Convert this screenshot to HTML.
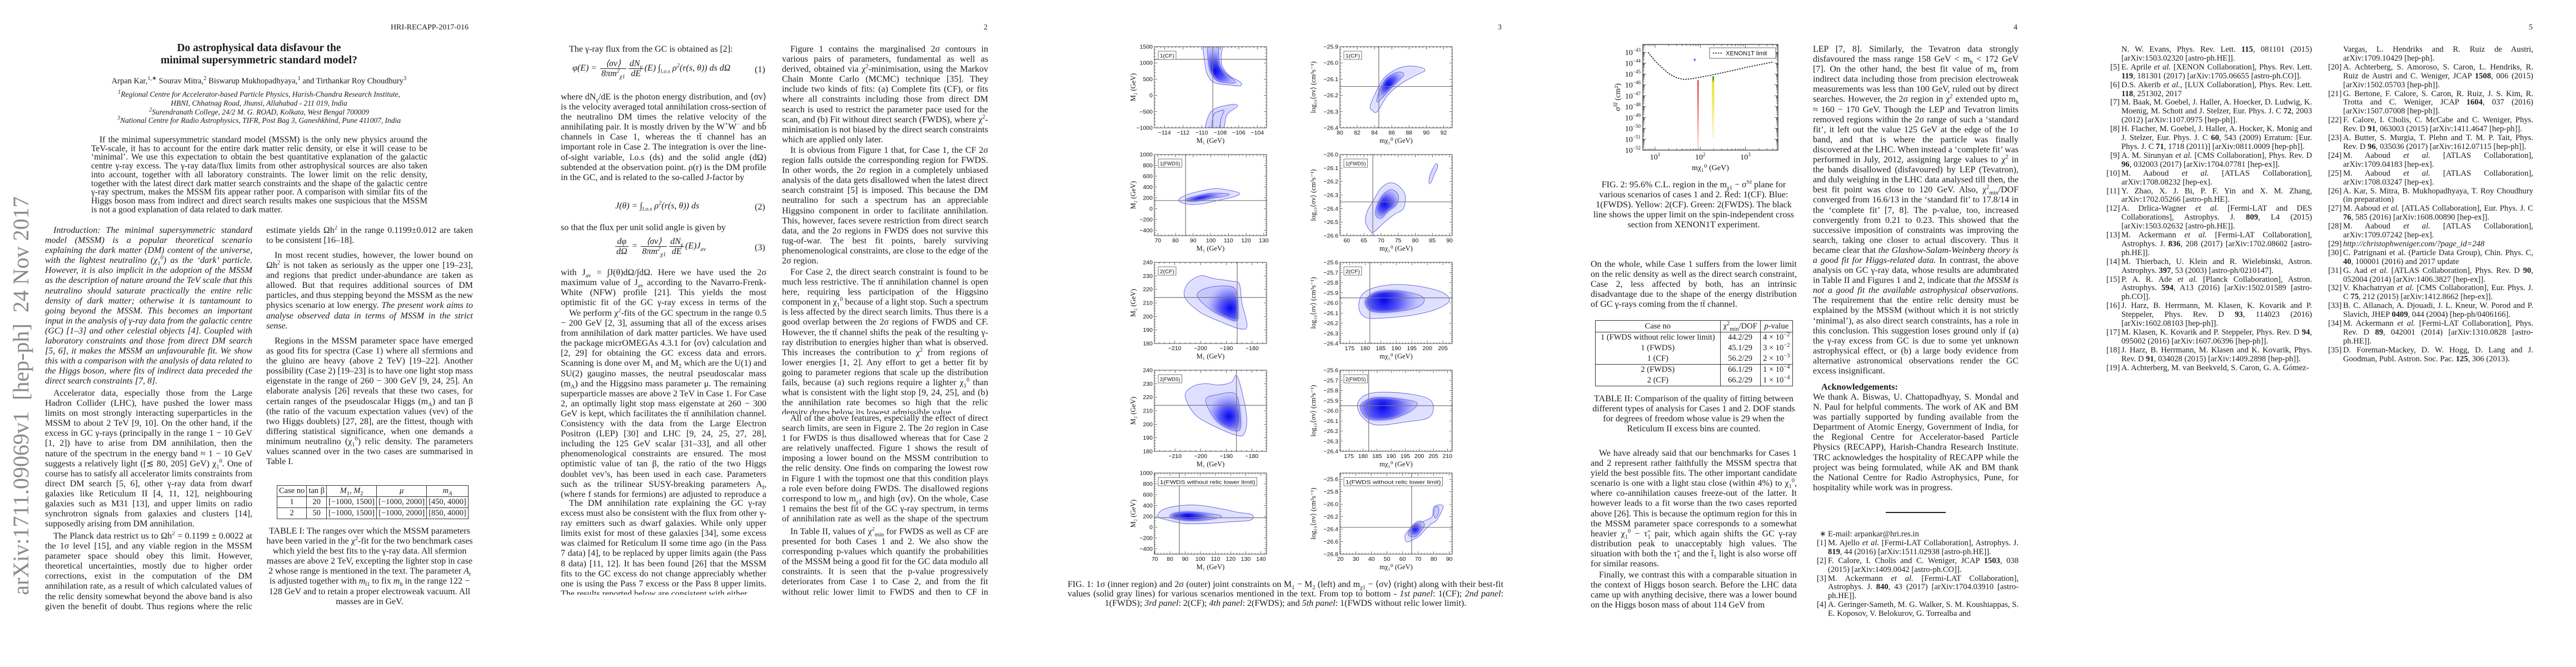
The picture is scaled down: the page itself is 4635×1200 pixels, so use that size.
<!DOCTYPE html>
<html lang="en">
<head>
<meta charset="utf-8">
<title>Do astrophysical data disfavour the MSSM?</title>
<style>
html,body{margin:0;padding:0}
body{width:4635px;height:1200px;overflow:hidden;background:#fff;position:relative;font-family:"Liberation Serif",serif;color:#1a1a1a}
.a{position:absolute}
.t{position:absolute;font-size:16px;line-height:18.1px;text-align:justify;hyphens:auto;-webkit-hyphens:auto;overflow:hidden}
.ind{text-indent:15px}
.it{font-style:italic}
sup,sub{font-size:10.5px;line-height:0}
.pn{position:absolute;top:42px;font-size:14px}
.cen{text-align:center;text-align-last:center}
.fr{display:inline-block;vertical-align:middle;text-align:center;margin:0 2px}
.fr>span{display:block;line-height:17px;padding:0 2px}
.fr>span:first-child{border-bottom:1px solid #222}
.eq{position:absolute;font-size:16px;white-space:nowrap;font-style:italic}
.eqn{position:absolute;font-size:16px}
table.tb{position:absolute;border-collapse:collapse;font-size:14.5px}
table.tb td{border:1px solid #333;padding:0 3px;text-align:center;height:19px;line-height:19px;white-space:nowrap}
.refs{position:absolute;font-size:14.6px;line-height:15.9px;text-align:justify;hyphens:auto}
.refs div{position:relative}
.refs b{font-weight:bold}
.refs span.l{position:absolute;left:-27px;width:24px;text-align:right}
</style>
</head>
<body>

<!-- ================= PAGE 1 ================= -->
<div class="a" style="left:-362px;top:690px;width:800px;text-align:center;transform:rotate(-90deg);font-size:40px;color:#8a8a8a;white-space:pre;line-height:44px">arXiv:1711.09069v1  [hep-ph]  24 Nov 2017</div>

<div class="a" style="left:703px;top:42px;font-size:14px">HRI-RECAPP-2017-016</div>

<div class="a cen" style="left:166px;top:76px;width:600px;font-size:19.5px;line-height:22px;font-weight:bold">Do astrophysical data disfavour the<br>minimal supersymmetric standard model?</div>

<div class="a cen" style="left:100px;top:138px;width:732px;font-size:14.5px;white-space:nowrap">Arpan Kar,<sup>1,∗</sup> Sourav Mitra,<sup>2</sup> Biswarup Mukhopadhyaya,<sup>1</sup> and Tirthankar Roy Choudhury<sup>3</sup></div>

<div class="a cen it" style="left:100px;top:162px;width:732px;font-size:13.5px;line-height:15.8px;white-space:nowrap"><sup>1</sup>Regional Centre for Accelerator-based Particle Physics, Harish-Chandra Research Institute,<br>HBNI, Chhatnag Road, Jhunsi, Allahabad - 211 019, India<br><sup>2</sup>Surendranath College, 24/2 M. G. ROAD, Kolkata, West Bengal 700009<br><sup>3</sup>National Centre for Radio Astrophysics, TIFR, Post Bag 3, Ganeshkhind, Pune 411007, India</div>

<div class="t ind" style="left:164px;top:244px;width:605px;font-size:15.6px;line-height:15.7px;height:142px">If the minimal supersymmetric standard model (MSSM) is the only new physics around the TeV-scale, it has to account for the entire dark matter relic density, or else it will cease to be ‘minimal’. We use this expectation to obtain the best quantitative explanation of the galactic centre γ-ray excess. The γ-ray data/flux limits from other astrophysical sources are also taken into account, together with all laboratory constraints. The lower limit on the relic density, together with the latest direct dark matter search constraints and the shape of the galactic centre γ-ray spectrum, makes the MSSM fits appear rather poor. A comparison with similar fits of the Higgs boson mass from indirect and direct search results makes one suspicious that the MSSM is not a good explanation of data related to dark matter.</div>

<div class="t ind it" style="left:81px;top:406px;width:373px;height:290px"><i>Introduction:</i> The minimal supersymmetric standard model (MSSM) is a popular theoretical scenario explaining the dark matter (DM) content of the universe, with the lightest neutralino (χ<sub>1</sub><sup>0</sup>) as the ‘dark’ particle. However, it is also implicit in the adoption of the MSSM as the description of nature around the TeV scale that this neutralino should saturate practically the entire relic density of dark matter; otherwise it is tantamount to going beyond the MSSM. This becomes an important input in the analysis of γ-ray data from the galactic centre (GC) [1–3] and other celestial objects [4]. Coupled with laboratory constraints and those from direct DM search [5, 6], it makes the MSSM an unfavourable fit. We show this with a comparison with the analysis of data related to the Higgs boson, where fits of indirect data preceded the direct search constraints [7, 8].</div>

<div class="t ind" style="left:81px;top:699px;width:373px;height:254px">Accelerator data, especially those from the Large Hadron Collider (LHC), have pushed the lower mass limits on most strongly interacting superparticles in the MSSM to about 2 TeV [9, 10]. On the other hand, if the excess in GC γ-rays (principally in the range 1 − 10 GeV [1, 2]) have to arise from DM annihilation, then the nature of the spectrum in the energy band ≈ 1 − 10 GeV suggests a relatively light ([≲ 80, 205] GeV) χ<sub>1</sub><sup>0</sup>. One of course has to satisfy all accelerator limits constraints from direct DM search [5, 6], other γ-ray data from dwarf galaxies like Reticulum II [4, 11, 12], neighbouring galaxies such as M31 [13], and upper limits on radio synchrotron signals from galaxies and clusters [14], supposedly arising from DM annihilation.</div>

<div class="t ind" style="left:81px;top:956px;width:373px;height:146px">The Planck data restrict us to Ωh<sup>2</sup> = 0.1199 ± 0.0022 at the 1σ level [15], and any viable region in the MSSM parameter space should obey this limit. However, theoretical uncertainties, mostly due to higher order corrections, exist in the computation of the DM annihilation rate, as a result of which calculated values of the relic density somewhat beyond the above band is also given the benefit of doubt. Thus regions where the relic density</div>

<div class="t" style="left:479px;top:406px;width:372px;height:37px">estimate yields Ωh<sup>2</sup> in the range 0.1199±0.012 are taken to be consistent [16–18].</div>

<div class="t ind" style="left:479px;top:451px;width:372px;height:146px">In most recent studies, however, the lower bound on Ωh<sup>2</sup> is not taken as seriously as the upper one [19–23], and regions that predict under-abundance are taken as allowed. But that requires additional sources of DM particles, and thus stepping beyond the MSSM as the new physics scenario at low energy. <i>The present work aims to analyse observed data in terms of MSSM in the strict sense.</i></div>

<div class="t ind" style="left:479px;top:605px;width:372px;height:236px">Regions in the MSSM parameter space have emerged as good fits for spectra (Case 1) where all sfermions and the gluino are heavy (above 2 TeV) [19–22]. Another possibility (Case 2) [19–23] is to have one light stop mass eigenstate in the range of 260 − 300 GeV [9, 24, 25]. An elaborate analysis [26] reveals that these two cases, for certain ranges of the pseudoscalar Higgs (m<sub>A</sub>) and tan β (the ratio of the vacuum expectation values (vev) of the two Higgs doublets) [27, 28], are the fittest, though with differing statistical significance, when one demands a minimum neutralino (χ<sub>1</sub><sup>0</sup>) relic density. The parameters values scanned over in the two cases are summarised in Table I.</div>

<table class="tb" style="left:498px;top:873px;width:334px">
<tr><td>Case no</td><td>tan β</td><td><i>M</i><sub>1</sub>, <i>M</i><sub>2</sub></td><td><i>μ</i></td><td><i>m<sub>A</sub></i></td></tr>
<tr><td>1</td><td>20</td><td>[−1000, 1500]</td><td>[−1000, 2000]</td><td>[450, 4000]</td></tr>
<tr><td>2</td><td>50</td><td>[−1000, 1500]</td><td>[−1000, 2000]</td><td>[850, 4000]</td></tr>
</table>

<div class="t cen" style="left:479px;top:947px;width:372px;height:146px">TABLE I: The ranges over which the MSSM parameters have been varied in the χ<sup>2</sup>-fit for the two benchmark cases which yield the best fits to the γ-ray data. All sfermion masses are above 2 TeV, excepting the lighter stop in case 2 whose range is mentioned in the text. The parameter <i>A<sub>t</sub></i> is adjusted together with <i>m</i><sub>t̃1</sub> to fix <i>m<sub>h</sub></i> in the range 122 − 128 GeV and to retain a proper electroweak vacuum. All masses are in GeV.</div>

<!-- ================= PAGE 2 ================= -->
<div class="pn" style="left:1770px">2</div>

<div class="t ind" style="left:1009px;top:80px;width:370px;height:19px">The γ-ray flux from the GC is obtained as [2]:</div>
<div class="eq" style="left:1030px;top:106px">φ(E) = <span class="fr"><span>⟨σv⟩</span><span>8πm<sup>2</sup><sub>χ1</sub></span></span><span class="fr"><span>dN<sub>γ</sub></span><span>dE</span></span>(E) ∫<sub>l.o.s</sub> ρ<sup>2</sup>(r(s, θ)) ds dΩ</div>
<div class="eqn" style="left:1358px;top:117px">(1)</div>

<div class="t" style="left:1009px;top:166px;width:370px;height:182px">where dN<sub>γ</sub>/dE is the photon energy distribution, and ⟨σv⟩ is the velocity averaged total annihilation cross-section of the neutralino DM times the relative velocity of the annihilating pair. It is mostly driven by the W<sup>+</sup>W<sup>−</sup> and bb̄ channels in Case 1, whereas the tt̄ channel has an important role in Case 2. The integration is over the line-of-sight variable, l.o.s (ds) and the solid angle (dΩ) subtended at the observation point. ρ(r) is the DM profile in the GC, and is related to the so-called J-factor by</div>
<div class="eq" style="left:1107px;top:362px">J(θ) = ∫<sub>l.o.s</sub> ρ<sup>2</sup>(r(s, θ)) ds</div>
<div class="eqn" style="left:1358px;top:364px">(2)</div>
<div class="t" style="left:1009px;top:401px;width:370px;height:19px">so that the flux per unit solid angle is given by</div>
<div class="eq" style="left:1105px;top:426px"><span class="fr"><span>dφ</span><span>dΩ</span></span> = <span class="fr"><span>⟨σv⟩</span><span>8πm<sup>2</sup><sub>χ1</sub></span></span><span class="fr"><span>dN<sub>γ</sub></span><span>dE</span></span>(E)J<sub>av</sub></div>
<div class="eqn" style="left:1358px;top:437px">(3)</div>

<div class="t" style="left:1009px;top:482px;width:370px;height:73px">with J<sub>av</sub> = ∫J(θ)dΩ/∫dΩ. Here we have used the 2σ maximum value of J<sub>av</sub> according to the Navarro-Frenk-White (NFW) profile [21]. This yields the most optimistic fit of the GC γ-ray excess in terms of the MSSM.</div>
<div class="t ind" style="left:1009px;top:555px;width:370px;height:344px">We perform χ<sup>2</sup>-fits of the GC spectrum in the range 0.5 − 200 GeV [2, 3], assuming that all of the excess arises from annihilation of dark matter particles. We have used the package micrOMEGAs 4.3.1 for ⟨σv⟩ calculation and [2, 29] for obtaining the GC excess data and errors. Scanning is done over M<sub>1</sub> and M<sub>2</sub> which are the U(1) and SU(2) gaugino masses, the neutral pseudoscalar mass (m<sub>A</sub>) and the Higgsino mass parameter μ. The remaining superparticle masses are above 2 TeV in Case 1. For Case 2, an optimally light stop mass eigenstate at 260 − 300 GeV is kept, which facilitates the tt̄ annihilation channel. Consistency with the data from the Large Electron Positron (LEP) [30] and LHC [9, 24, 25, 27, 28], including the 125 GeV scalar [31–33], and all other phenomenological constraints are ensured. The most optimistic value of tan β, the ratio of the two Higgs doublet vev’s, has been used in each case. Parameters such as the trilinear SUSY-breaking parameters A<sub>f</sub>, (where f stands for fermions) are adjusted to reproduce a 125 GeV neutral scalar.</div>
<div class="t ind" style="left:1009px;top:897px;width:370px;height:173px">The DM annihilation rate explaining the GC γ-ray excess must also be consistent with the flux from other γ-ray emitters such as dwarf galaxies. While only upper limits exist for most of these galaxies [34], some excess was claimed for Reticulum II some time ago (in the Pass 7 data) [4], to be replaced by upper limits again (the Pass 8 data) [11, 12]. It has been found [26] that the MSSM fits to the GC excess do not change appreciably whether one is using the Pass 7 excess or the Pass 8 upper limits. The results reported below are consistent with either.</div>

<div class="t ind" style="left:1407px;top:80px;width:371px;height:182px">Figure 1 contains the marginalised 2σ contours in various pairs of parameters, fundamental as well as derived, obtained via χ<sup>2</sup>-minimisation, using the Markov Chain Monte Carlo (MCMC) technique [35]. They include two kinds of fits: (a) Complete fits (CF), or fits where all constraints including those from direct DM search is used to restrict the parameter pace used for the scan, and (b) Fit without direct search (FWDS), where χ<sup>2</sup>-minimisation is not biased by the direct search constraints which are applied only later.</div>
<div class="t ind" style="left:1407px;top:262px;width:371px;height:219px">It is obvious from Figure 1 that, for Case 1, the CF 2σ region falls outside the corresponding region for FWDS. In other words, the 2σ region in a completely unbiased analysis of the data gets disallowed when the latest direct search constraint [5] is imposed. This because the DM neutralino for such a spectrum has an appreciable Higgsino component in order to facilitate annihilation. This, however, faces severe restriction from direct search data, and the 2σ regions in FWDS does not survive this tug-of-war. The best fit points, barely surviving phenomenological constraints, are close to the edge of the 2σ region.</div>
<div class="t ind" style="left:1407px;top:481px;width:371px;height:264px">For Case 2, the direct search constraint is found to be much less restrictive. The tt̄ annihilation channel is open here, requiring less participation of the Higgsino component in χ<sub>1</sub><sup>0</sup> because of a light stop. Such a spectrum is less affected by the direct search limits. Thus there is a good overlap between the 2σ regions of FWDS and CF. However, the tt̄ channel shifts the peak of the resulting γ-ray distribution to energies higher than what is observed. This increases the contribution to χ<sup>2</sup> from regions of lower energies [1, 2]. Any effort to get a better fit by going to parameter regions that scale up the distribution fails, because (a) such regions require a lighter χ<sub>1</sub><sup>0</sup> than what is consistent with the light stop [9, 24, 25], and (b) the annihilation rate becomes so high that the relic density drops below its lowest admissible value.</div>
<div class="t ind" style="left:1407px;top:744px;width:371px;height:201px">All of the above features, especially the effect of direct search limits, are seen in Figure 2. The 2σ region in Case 1 for FWDS is thus disallowed whereas that for Case 2 are relatively unaffected. Figure 1 shows the result of imposing a lower bound on the MSSM contribution to the relic density. One finds on comparing the lowest row in Figure 1 with the topmost one that this condition plays a role even before doing FWDS. The disallowed regions correspond to low m<sub>χ1</sub> and high ⟨σv⟩. On the whole, Case 1 remains the best fit of the GC γ-ray spectrum, in terms of annihilation rate as well as the shape of the spectrum [1, 2].</div>
<div class="t ind" style="left:1407px;top:948px;width:371px;height:122px">In Table II, values of χ<sup>2</sup><sub>min</sub> for FWDS as well as CF are presented for both Cases 1 and 2. We also show the corresponding p-values which quantify the probabilities of the MSSM being a good fit for the GC data modulo all constraints. It is seen that the p-value progressively deteriorates from Case 1 to Case 2, and from the fit without relic lower limit to FWDS and then to CF in Case 1.</div>

<!-- ================= PAGE 3 ================= -->
<div class="pn" style="left:2695px">3</div>
<div class="t" style="left:1921px;top:1043px;width:784px;height:56px;line-height:17px;text-align-last:center">FIG. 1: 1σ (inner region) and 2σ (outer) joint constraints on M<sub>1</sub> − M<sub>2</sub> (left) and m<sub>χ1</sub> − ⟨σv⟩ (right) along with their best-fit values (solid gray lines) for various scenarios mentioned in the text. From top to bottom - <i>1st panel</i>: 1(CF); <i>2nd panel</i>: 1(FWDS); <i>3rd panel</i>: 2(CF); <i>4th panel</i>: 2(FWDS); and <i>5th panel</i>: 1(FWDS without relic lower limit).</div>

<!-- ================= PAGE 4 ================= -->
<div class="pn" style="left:3623px">4</div>
<div class="t cen" style="left:2862px;top:324px;width:371px;height:92px">FIG. 2: 95.6% C.L. region in the m<sub>χ1</sub> − σ<sup>SI</sup> plane for various scenarios of cases 1 and 2. Red: 1(CF). Blue: 1(FWDS). Yellow: 2(CF). Green: 2(FWDS). The black line shows the upper limit on the spin-independent cross section from XENON1T experiment.</div>
<div class="t" style="left:2862px;top:467px;width:371px;height:92px">On the whole, while Case 1 suffers from the lower limit on the relic density as well as the direct search constraint, Case 2, less affected by both, has an intrinsic disadvantage due to the shape of the energy distribution of GC γ-rays coming from the tt̄ channel.</div>

<table class="tb" style="left:2870px;top:576px;width:356px;font-size:14.5px">
<tr><td style="height:20px">Case no</td><td>χ<sup>2</sup><sub>min</sub>/DOF</td><td><i>p</i>-value</td></tr>
<tr><td style="border-bottom:none">1 (FWDS without relic lower limit)</td><td style="border-bottom:none">44.2/29</td><td style="border-bottom:none">4 × 10<sup>−2</sup></td></tr>
<tr><td style="border-top:none;border-bottom:none">1 (FWDS)</td><td style="border-top:none;border-bottom:none">45.1/29</td><td style="border-top:none;border-bottom:none">3 × 10<sup>−2</sup></td></tr>
<tr><td style="border-top:none">1 (CF)</td><td style="border-top:none">56.2/29</td><td style="border-top:none">2 × 10<sup>−3</sup></td></tr>
<tr><td style="border-bottom:none">2 (FWDS)</td><td style="border-bottom:none">66.1/29</td><td style="border-bottom:none">1 × 10<sup>−4</sup></td></tr>
<tr><td style="border-top:none">2 (CF)</td><td style="border-top:none">66.2/29</td><td style="border-top:none">1 × 10<sup>−4</sup></td></tr>
</table>

<div class="t cen" style="left:2862px;top:709px;width:371px;height:74px">TABLE II: Comparison of the quality of fitting between different types of analysis for Cases 1 and 2. DOF stands for degrees of freedom whose value is 29 when the Reticulum II excess bins are counted.</div>

<div class="t ind" style="left:2862px;top:807px;width:371px;height:219px">We have already said that our benchmarks for Cases 1 and 2 represent rather faithfully the MSSM spectra that yield the best possible fits. The other important candidate scenario is one with a light stau close (within 4%) to χ<sub>1</sub><sup>0</sup>, where co-annihilation causes freeze-out of the latter. It however leads to a fit worse than the two cases reported above [26]. This is because the optimum region for this in the MSSM parameter space corresponds to a somewhat heavier χ<sub>1</sub><sup>0</sup> − τ̃<sub>1</sub> pair, which again shifts the GC γ-ray distribution peak to unacceptably high values. The situation with both the τ̃<sub>1</sub> and the t̃<sub>1</sub> light is also worse off for similar reasons.</div>
<div class="t ind" style="left:2862px;top:1026px;width:371px;height:74px">Finally, we contrast this with a comparable situation in the context of Higgs boson search. Before the LHC data came up with anything decisive, there was a lower bound on the Higgs boson mass of about 114 GeV from</div>

<div class="t" style="left:3262px;top:80px;width:370px;height:599px">LEP [7, 8]. Similarly, the Tevatron data strongly disfavoured the mass range 158 GeV &lt; m<sub>h</sub> &lt; 172 GeV [7]. On the other hand, the best fit value of m<sub>h</sub> from indirect data including those from precision electroweak measurements was less than 100 GeV, ruled out by direct searches. However, the 2σ region in χ<sup>2</sup> extended upto m<sub>h</sub> ≈ 160 − 170 GeV. Though the LEP and Tevatron limits removed regions within the 2σ range of such a ‘standard fit’, it left out the value 125 GeV at the edge of the 1σ band, and that is where the particle was finally discovered at the LHC. When instead a ‘complete fit’ was performed in July, 2012, assigning large values to χ<sup>2</sup> in the bands disallowed (disfavoured) by LEP (Tevatron), and duly weighing in the LHC data analysed till then, the best fit point was close to 120 GeV. Also, χ<sup>2</sup><sub>min</sub>/DOF converged from 16.6/13 in the ‘standard fit’ to 17.8/14 in the ‘complete fit’ [7, 8]. The p-value, too, increased convergently from 0.21 to 0.23. This showed that the successive imposition of constraints was improving the search, taking one closer to actual discovery. Thus it became clear that <i>the Glashow-Salam-Weinberg theory is a good fit for Higgs-related data.</i> In contrast, the above analysis on GC γ-ray data, whose results are adumbrated in Table II and Figures 1 and 2, indicate that <i>the MSSM is not a good fit the available astrophysical observations.</i> The requirement that the entire relic density must be explained by the MSSM (without which it is not strictly ‘minimal’), as also direct search constraints, has a role in this conclusion. This suggestion loses ground only if (a) the γ-ray excess from GC is due to some yet unknown astrophysical effect, or (b) a large body evidence from alternative astronomical observations render the GC excess insignificant.</div>
<div class="a" style="left:3277px;top:688px;font-size:16px;font-weight:bold;line-height:18px">Acknowledgements:</div>
<div class="t" style="left:3262px;top:706px;width:370px;height:182px">We thank A. Biswas, U. Chattopadhyay, S. Mondal and N. Paul for helpful comments. The work of AK and BM was partially supported by funding available from the Department of Atomic Energy, Government of India, for the Regional Centre for Accelerator-based Particle Physics (RECAPP), Harish-Chandra Research Institute. TRC acknowledges the hospitality of RECAPP while the project was being formulated, while AK and BM thank the National Centre for Radio Astrophysics, Pune, for hospitality while work was in progress.</div>
<div class="a" style="left:3393px;top:921px;width:108px;height:2px;background:#222"></div>

<div class="refs" style="left:3289px;top:954px;width:343px">
<div><span class="l">∗</span>E-mail: arpankar@hri.res.in</div>
<div><span class="l">[1]</span>M. Ajello <i>et al.</i> [Fermi-LAT Collaboration], Astrophys. J. <b>819</b>, 44 (2016) [arXiv:1511.02938 [astro-ph.HE]].</div>
<div><span class="l">[2]</span>F. Calore, I. Cholis and C. Weniger, JCAP <b>1503</b>, 038 (2015) [arXiv:1409.0042 [astro-ph.CO]].</div>
<div><span class="l">[3]</span>M. Ackermann <i>et al.</i> [Fermi-LAT Collaboration], Astrophys. J. <b>840</b>, 43 (2017) [arXiv:1704.03910 [astro-ph.HE]].</div>
<div><span class="l">[4]</span>A. Geringer-Sameth, M. G. Walker, S. M. Koushiappas, S. E. Koposov, V. Belokurov, G. Torrealba and</div>
</div>

<!-- ================= PAGE 5 ================= -->
<div class="pn" style="left:4550px">5</div>
<div class="refs" style="left:3817px;top:82px;width:343px">
<div>N. W. Evans, Phys. Rev. Lett. <b>115</b>, 081101 (2015) [arXiv:1503.02320 [astro-ph.HE]].</div>
<div><span class="l">[5]</span>E. Aprile <i>et al.</i> [XENON Collaboration], Phys. Rev. Lett. <b>119</b>, 181301 (2017) [arXiv:1705.06655 [astro-ph.CO]].</div>
<div><span class="l">[6]</span>D.S. Akerib <i>et al.</i>, [LUX Collaboration], Phys. Rev. Lett. <b>118</b>, 251302, 2017</div>
<div><span class="l">[7]</span>M. Baak, M. Goebel, J. Haller, A. Hoecker, D. Ludwig, K. Moenig, M. Schott and J. Stelzer, Eur. Phys. J. C <b>72</b>, 2003 (2012) [arXiv:1107.0975 [hep-ph]].</div>
<div><span class="l">[8]</span>H. Flacher, M. Goebel, J. Haller, A. Hocker, K. Monig and J. Stelzer, Eur. Phys. J. C <b>60</b>, 543 (2009) Erratum: [Eur. Phys. J. C <b>71</b>, 1718 (2011)] [arXiv:0811.0009 [hep-ph]].</div>
<div><span class="l">[9]</span>A. M. Sirunyan <i>et al.</i> [CMS Collaboration], Phys. Rev. D <b>96</b>, 032003 (2017) [arXiv:1704.07781 [hep-ex]].</div>
<div><span class="l">[10]</span>M. Aaboud <i>et al.</i> [ATLAS Collaboration], arXiv:1708.08232 [hep-ex].</div>
<div><span class="l">[11]</span>Y. Zhao, X. J. Bi, P. F. Yin and X. M. Zhang, arXiv:1702.05266 [astro-ph.HE].</div>
<div><span class="l">[12]</span>A. Drlica-Wagner <i>et al.</i> [Fermi-LAT and DES Collaborations], Astrophys. J. <b>809</b>, L4 (2015) [arXiv:1503.02632 [astro-ph.HE]].</div>
<div><span class="l">[13]</span>M. Ackermann <i>et al.</i> [Fermi-LAT Collaboration], Astrophys. J. <b>836</b>, 208 (2017) [arXiv:1702.08602 [astro-ph.HE]].</div>
<div><span class="l">[14]</span>M. Thierbach, U. Klein and R. Wielebinski, Astron. Astrophys. <b>397</b>, 53 (2003) [astro-ph/0210147].</div>
<div><span class="l">[15]</span>P. A. R. Ade <i>et al.</i> [Planck Collaboration], Astron. Astrophys. <b>594</b>, A13 (2016) [arXiv:1502.01589 [astro-ph.CO]].</div>
<div><span class="l">[16]</span>J. Harz, B. Herrmann, M. Klasen, K. Kovarik and P. Steppeler, Phys. Rev. D <b>93</b>, 114023 (2016) [arXiv:1602.08103 [hep-ph]].</div>
<div><span class="l">[17]</span>M. Klasen, K. Kovarik and P. Steppeler, Phys. Rev. D <b>94</b>, 095002 (2016) [arXiv:1607.06396 [hep-ph]].</div>
<div><span class="l">[18]</span>J. Harz, B. Herrmann, M. Klasen and K. Kovarik, Phys. Rev. D <b>91</b>, 034028 (2015) [arXiv:1409.2898 [hep-ph]].</div>
<div><span class="l">[19]</span>A. Achterberg, M. van Beekveld, S. Caron, G. A. Gómez-</div>
</div>
<div class="refs" style="left:4216px;top:82px;width:342px">
<div>Vargas, L. Hendriks and R. Ruiz de Austri, arXiv:1709.10429 [hep-ph].</div>
<div><span class="l">[20]</span>A. Achterberg, S. Amoroso, S. Caron, L. Hendriks, R. Ruiz de Austri and C. Weniger, JCAP <b>1508</b>, 006 (2015) [arXiv:1502.05703 [hep-ph]].</div>
<div><span class="l">[21]</span>G. Bertone, F. Calore, S. Caron, R. Ruiz, J. S. Kim, R. Trotta and C. Weniger, JCAP <b>1604</b>, 037 (2016) [arXiv:1507.07008 [hep-ph]].</div>
<div><span class="l">[22]</span>F. Calore, I. Cholis, C. McCabe and C. Weniger, Phys. Rev. D <b>91</b>, 063003 (2015) [arXiv:1411.4647 [hep-ph]].</div>
<div><span class="l">[23]</span>A. Butter, S. Murgia, T. Plehn and T. M. P. Tait, Phys. Rev. D <b>96</b>, 035036 (2017) [arXiv:1612.07115 [hep-ph]].</div>
<div><span class="l">[24]</span>M. Aaboud <i>et al.</i> [ATLAS Collaboration], arXiv:1709.04183 [hep-ex].</div>
<div><span class="l">[25]</span>M. Aaboud <i>et al.</i> [ATLAS Collaboration], arXiv:1708.03247 [hep-ex].</div>
<div><span class="l">[26]</span>A. Kar, S. Mitra, B. Mukhopadhyaya, T. Roy Choudhury (in preparation)</div>
<div><span class="l">[27]</span>M. Aaboud <i>et al.</i> [ATLAS Collaboration], Eur. Phys. J. C <b>76</b>, 585 (2016) [arXiv:1608.00890 [hep-ex]].</div>
<div><span class="l">[28]</span>M. Aaboud <i>et al.</i> [ATLAS Collaboration], arXiv:1709.07242 [hep-ex].</div>
<div><span class="l">[29]</span><i>http://christophweniger.com/?page_id=248</i></div>
<div><span class="l">[30]</span>C. Patrignani et al. (Particle Data Group), Chin. Phys. C, <b>40</b>, 100001 (2016) and 2017 update</div>
<div><span class="l">[31]</span>G. Aad <i>et al.</i> [ATLAS Collaboration], Phys. Rev. D <b>90</b>, 052004 (2014) [arXiv:1406.3827 [hep-ex]].</div>
<div><span class="l">[32]</span>V. Khachatryan <i>et al.</i> [CMS Collaboration], Eur. Phys. J. C <b>75</b>, 212 (2015) [arXiv:1412.8662 [hep-ex]].</div>
<div><span class="l">[33]</span>B. C. Allanach, A. Djouadi, J. L. Kneur, W. Porod and P. Slavich, JHEP <b>0409</b>, 044 (2004) [hep-ph/0406166].</div>
<div><span class="l">[34]</span>M. Ackermann <i>et al.</i> [Fermi-LAT Collaboration], Phys. Rev. D <b>89</b>, 042001 (2014) [arXiv:1310.0828 [astro-ph.HE]].</div>
<div><span class="l">[35]</span>D. Foreman-Mackey, D. W. Hogg, D. Lang and J. Goodman, Publ. Astron. Soc. Pac. <b>125</b>, 306 (2013).</div>
</div>

<svg id="figs" class="a" style="left:0;top:0" width="4635" height="1200" xmlns="http://www.w3.org/2000/svg"><defs id="defs"></defs></svg>

<script>
// ===== Figure 1 data (one entry per panel, row-major: left M1-M2, right m_chi-<sigma v>) =====
const panelLabels = ['1(CF)','1(CF)','1(FWDS)','1(FWDS)','2(CF)','2(CF)','2(FWDS)','2(FWDS)','1(FWDS without relic lower limit)','1(FWDS without relic lower limit)'];
const xLims = [[-115.1,-103],[80,93],[68,131.6],[58,90.8],[-217.9,-174.4],[171.9,208],[-218.1,-174.2],[171.8,211.7],[69.7,143.7],[19.8,91.9]];
const yLims = [[-1000,1500],[-26.4,-25.9],[-500,1000],[-26.6,-26.0],[180,240],[-26.4,-25.6],[180,240],[-26.4,-25.6],[-500,1000],[-26.8,-25.5]];
const xTicks = [[-114,-112,-110,-108,-106,-104],[80,82,84,86,88,90,92],[70,80,90,100,110,120,130],[60,65,70,75,80,85,90],[-210,-200,-190,-180],[175,180,185,190,195,200,205],[-210,-200,-190,-180],[175,180,185,190,195,200,205,210],[70,80,90,100,110,120,130,140],[20,30,40,50,60,70,80,90]];
const yTicks = [[-1000,-500,0,500,1000,1500],[-26.4,-26.3,-26.2,-26.1,-26.0,-25.9],[-400,-200,0,200,400,600,800,1000],[-26.6,-26.5,-26.4,-26.3,-26.2,-26.1,-26.0],[180,190,200,210,220,230,240],[-26.4,-26.3,-26.2,-26.1,-26.0,-25.9,-25.8,-25.7,-25.6],[180,190,200,210,220,230,240],[-26.4,-26.3,-26.2,-26.1,-26.0,-25.9,-25.8,-25.7,-25.6],[-400,-200,0,200,400,600,800,1000],[-26.8,-26.6,-26.4,-26.2,-26.0,-25.8,-25.6]];
const bestFit = [[-108.8,1112],[84.5,-26.145],[85.7,149],[67.6,-26.35],[-185.8,214],[181.5,-25.95],[-186,214],[182,-25.95],[86.2,173],[65.8,-26.37]];
const peaks = [[-108.6,750],[85.6,-26.13],[94,190],[71,-26.37],[-188.5,206],[186,-25.97],[-189,206],[187,-25.96],[92,215],[68,-26.4]];
const outerContours = [
 [[-109.7,1600],[-109.6,900],[-109.2,550],[-108.5,380],[-107,320],[-105.8,300],[-105.9,420],[-107,600],[-107.8,900],[-107.9,1200],[-107.9,1600]],
 [[83.7,-26.29],[84.3,-26.3],[85.5,-26.2],[87,-26.13],[89,-26.07],[89.8,-26.05],[89.5,-26.03],[88,-26.02],[86.5,-26.04],[85,-26.1],[84,-26.2],[83.5,-26.27]],
 [[82,170],[86,250],[95,330],[103,370],[110,340],[116,290],[114,230],[105,160],[95,90],[88,80],[83,120]],
 [[67,-26.57],[65.5,-26.5],[66,-26.42],[68,-26.33],[70,-26.25],[72.5,-26.21],[75,-26.23],[77,-26.3],[76.5,-26.4],[74,-26.44],[71,-26.5],[68,-26.57]],
 [[-205,224],[-200,230],[-195,228],[-188,226],[-185,224],[-184,210],[-182,193],[-185,191],[-192,196],[-200,203],[-206,214]],
 [[178,-26.05],[180,-26.14],[185,-26.15],[195,-26.12],[203,-26.06],[207,-25.98],[205,-25.9],[198,-25.84],[190,-25.82],[183,-25.85],[179,-25.92]],
 [[-206,221],[-203,228],[-198,230],[-193,229],[-188,231],[-186,236],[-184,225],[-182,205],[-183,193],[-186,192],[-194,198],[-202,207]],
 [[178,-25.95],[180,-26.07],[185,-26.14],[195,-26.11],[203,-26.07],[205,-25.97],[203,-25.88],[195,-25.83],[185,-25.82],[180,-25.86]],
 [[72,200],[80,120],[90,65],[105,70],[120,100],[133,130],[134,230],[125,270],[115,330],[100,400],[88,400],[76,330]],
 [[62,-26.58],[64,-26.6],[70,-26.52],[74,-26.42],[78,-26.32],[82,-26.25],[86,-26.05],[84,-26.01],[80,-26.05],[79,-26.2],[73,-26.28],[67,-26.35],[62,-26.48]]
];
const innerContours = [
 [[-109.3,1600],[-109.2,900],[-108.7,560],[-108,420],[-106.5,380],[-106.5,460],[-107.5,700],[-108.1,1000],[-108.3,1600]],
 [[84.3,-26.24],[84.8,-26.22],[86,-26.15],[87.3,-26.08],[87.2,-26.06],[86.5,-26.06],[85.3,-26.1],[84.5,-26.18]],
 [[86,170],[92,230],[100,280],[110,270],[108,230],[100,190],[92,140],[87,140]],
 [[68.5,-26.45],[68.8,-26.38],[70.5,-26.3],[73,-26.26],[75,-26.3],[74.5,-26.37],[72,-26.42],[70,-26.47]],
 [[-200,219],[-195,222],[-188,222],[-186,217],[-185.5,205],[-186,197],[-190,199],[-196,205],[-201,214]],
 [[180,-26],[182,-26.08],[188,-26.09],[196,-26.05],[199,-25.98],[197,-25.92],[190,-25.88],[184,-25.89],[181,-25.94]],
 [[-198,218],[-193,222],[-187,223],[-185,215],[-184.5,197],[-188,196],[-194,203]],
 [[179,-25.97],[182,-26.08],[190,-26.08],[197,-26.0],[199,-25.92],[192,-25.88],[185,-25.87],[181,-25.9]],
 [[80,210],[84,150],[95,120],[108,150],[114,200],[108,240],[95,280],[85,270]],
 [[64,-26.5],[68,-26.52],[72,-26.42],[74,-26.32],[71,-26.27],[67,-26.33],[64,-26.44]]
];
const islandOuter = [
 [[-109.5,-1100],[-109.2,-600],[-108.3,-380],[-106.5,-280],[-106.2,-350],[-107.3,-600],[-107.8,-1100]],
 null,null,
 [[84,-26.2],[84.5,-26.14],[86,-26.07],[86.5,-26.09],[85.5,-26.15],[84.5,-26.21]],
 null,null,null,null,null,
 [[80,-26.15],[81,-26.05],[83,-26.05],[83,-26.15],[81,-26.22]]
];
const islandInner = [
 [[-108.9,-1100],[-108.7,-600],[-108,-480],[-107.6,-470],[-107.9,-700],[-108.2,-1100]],
 null,null,null,null,null,null,null,null,null
];

// ===== Figure 2 data =====
const xenonMass = [7,10,15,20,30,44,60,100,200,500,1000,2000,4000];
const xenonLogSigma = [-43.0,-43.8,-44.5,-44.95,-45.35,-45.5,-45.45,-45.3,-45.05,-44.7,-44.4,-44.15,-43.9];
const scenarioNames = ['1(CF)','1(FWDS)','2(CF)','2(FWDS)'];
const scenarioColors = ['#e01010','#1530e0','#e8e020','#1a8a1a'];
const scenarioMassLow = [87,72,182,186];
const scenarioMassHigh = [91,79,204,203];
const scenarioLogSigmaTop = [-45.55,-43.6,-45.35,-45.2];
const scenarioLogSigmaBottom = [-52,-43.85,-50.9,-45.75];
const fig2XTickExp = [1,2,3];
const fig2YTickExp = [-43,-44,-45,-46,-47,-48,-49,-50,-51,-52];

const NS = 'http://www.w3.org/2000/svg';
const svg = document.getElementById('figs');
const defs = document.getElementById('defs');
function mk(tag, attrs, parent){
  const e = document.createElementNS(NS, tag);
  for (const k in attrs) e.setAttribute(k, attrs[k]);
  (parent || svg).appendChild(e);
  return e;
}
function smoothPath(pts){
  const n = pts.length;
  let d = 'M' + pts[0][0].toFixed(1) + ',' + pts[0][1].toFixed(1);
  for (let i = 0; i < n; i++){
    const p0 = pts[(i-1+n)%n], p1 = pts[i], p2 = pts[(i+1)%n], p3 = pts[(i+2)%n];
    const c1 = [p1[0]+(p2[0]-p0[0])/6, p1[1]+(p2[1]-p0[1])/6];
    const c2 = [p2[0]-(p3[0]-p1[0])/6, p2[1]-(p3[1]-p1[1])/6];
    d += ' C' + c1[0].toFixed(1)+','+c1[1].toFixed(1)+' '+c2[0].toFixed(1)+','+c2[1].toFixed(1)+' '+p2[0].toFixed(1)+','+p2[1].toFixed(1);
  }
  return d + 'Z';
}
function fmt(v, dec){
  const s = Math.abs(v).toFixed(dec);
  return (v < 0 ? '\u2212' : '') + s;
}

const flt = mk('filter', {id:'blur', x:'-20%', y:'-20%', width:'140%', height:'140%'}, defs);
mk('feGaussianBlur', {stdDeviation:'2.2'}, flt);

const colX = [2077, 2411];
const rowY = [84, 278, 472, 666, 851];
const PW = 202, PH = 146;

for (let i = 0; i < panelLabels.length; i++){
  const x0 = colX[i % 2], y0 = rowY[Math.floor(i / 2)];
  const xl = xLims[i], yl = yLims[i];
  const sx = v => x0 + (v - xl[0]) / (xl[1] - xl[0]) * PW;
  const sy = v => y0 + PH - (v - yl[0]) / (yl[1] - yl[0]) * PH;
  const isRight = i % 2 === 1;
  const g = mk('g', {});
  
  

  const cp = mk('clipPath', {id:'clip'+i}, defs);
  mk('rect', {x:x0, y:y0, width:PW, height:PH}, cp);
  const plot = mk('g', {'clip-path':'url(#clip'+i+')'}, g);

  const toPx = pts => pts.map(p => [sx(p[0]), sy(p[1])]);
  const outerPx = toPx(outerContours[i]);
  const innerPx = toPx(innerContours[i]);
  const bx = innerPx.map(p=>p[0]), by = innerPx.map(p=>p[1]);
  const rad = 0.6 * Math.max(Math.max(...bx)-Math.min(...bx), Math.max(...by)-Math.min(...by));
  const grad = mk('radialGradient', {id:'grad'+i, gradientUnits:'userSpaceOnUse', cx:sx(peaks[i][0]), cy:sy(peaks[i][1]), r:rad}, defs);
  mk('stop', {offset:'0', 'stop-color':'#0000f0', 'stop-opacity':'1'}, grad);
  mk('stop', {offset:'0.45', 'stop-color':'#3a3af5', 'stop-opacity':'0.8'}, grad);
  mk('stop', {offset:'1', 'stop-color':'#9a9aff', 'stop-opacity':'0.35'}, grad);

  const fills = mk('g', {filter:'url(#blur)'}, plot);
  const of = mk('path', {d:smoothPath(outerPx), fill:'#c4c4ff', 'fill-opacity':'0.55'}, fills);
  
  const inf = mk('path', {d:smoothPath(innerPx), fill:'url(#grad'+i+')'}, fills);
  
  if (islandOuter[i]){
    const isf = mk('path', {d:smoothPath(toPx(islandOuter[i])), fill:'#b8b8ff', 'fill-opacity':'0.6'}, fills);
    
  }
  const oc = mk('path', {d:smoothPath(outerPx), fill:'none', stroke:'#5a5ae0', 'stroke-width':'0.9'}, plot);
  
  const ic = mk('path', {d:smoothPath(innerPx), fill:'none', stroke:'#5a5ae0', 'stroke-width':'0.9'}, plot);
  
  if (islandOuter[i]){
    const io = mk('path', {d:smoothPath(toPx(islandOuter[i])), fill:'none', stroke:'#5a5ae0', 'stroke-width':'0.9'}, plot);
    
  }
  if (islandInner[i]){
    const ii = mk('path', {d:smoothPath(toPx(islandInner[i])), fill:'none', stroke:'#5a5ae0', 'stroke-width':'0.9'}, plot);
    
  }
  const vl = mk('line', {x1:sx(bestFit[i][0]), x2:sx(bestFit[i][0]), y1:y0, y2:y0+PH, stroke:'#777', 'stroke-width':'1.2'}, plot);
  
  const hl = mk('line', {x1:x0, x2:x0+PW, y1:sy(bestFit[i][1]), y2:sy(bestFit[i][1]), stroke:'#777', 'stroke-width':'1.2'}, plot);
  

  const fr = mk('rect', {x:x0, y:y0, width:PW, height:PH, fill:'none', stroke:'#333', 'stroke-width':'0.9'}, g);
  

  const xt = xTicks[i], yt = yTicks[i];
  const xstep = xt[1] - xt[0], ystep = yt[1] - yt[0];
  for (let v = xt[0] - xstep; v <= xt[xt.length-1] + xstep + 1e-9; v += xstep/5){
    if (v < xl[0] || v > xl[1]) continue;
    const major = Math.abs(((v - xt[0]) / xstep) - Math.round((v - xt[0]) / xstep)) < 1e-6;
    const L = major ? 5 : 2.5, X = sx(v);
    mk('line', {x1:X, x2:X, y1:y0+PH, y2:y0+PH-L, stroke:'#333', 'stroke-width':'0.7'}, g);
    mk('line', {x1:X, x2:X, y1:y0, y2:y0+L, stroke:'#333', 'stroke-width':'0.7'}, g);
  }
  for (let v = yt[0] - ystep; v <= yt[yt.length-1] + ystep + 1e-9; v += ystep/5){
    if (v < yl[0] - 1e-9 || v > yl[1] + 1e-9) continue;
    const major = Math.abs(((v - yt[0]) / ystep) - Math.round((v - yt[0]) / ystep)) < 1e-6;
    const L = major ? 5 : 2.5, Y = sy(v);
    mk('line', {x1:x0, x2:x0+L, y1:Y, y2:Y, stroke:'#333', 'stroke-width':'0.7'}, g);
    mk('line', {x1:x0+PW, x2:x0+PW-L, y1:Y, y2:Y, stroke:'#333', 'stroke-width':'0.7'}, g);
  }
  xt.forEach(v => {
    const t = mk('text', {x:sx(v), y:y0+PH+12, 'text-anchor':'middle', 'font-family':'Liberation Sans, sans-serif', 'font-size':'10.5', fill:'#111'}, g);
    t.textContent = fmt(v, 0);
    
  });
  yt.forEach(v => {
    const t = mk('text', {x:x0-3, y:sy(v)+3.5, 'text-anchor':'end', 'font-family':'Liberation Sans, sans-serif', 'font-size':'10.5', fill:'#111'}, g);
    t.textContent = fmt(v, isRight ? 1 : 0);
    
  });
  const xtl = mk('text', {x:x0+PW/2, y:y0+PH+27, 'text-anchor':'middle', 'font-family':'Liberation Serif, serif', 'font-size':'12.5', fill:'#111'}, g);
  xtl.textContent = isRight ? 'mχ₁⁰ (GeV)' : 'M₁ (GeV)';
  
  const ytx = x0 - (isRight ? 44 : 34), yty = y0 + PH/2;
  const ytl = mk('text', {x:ytx, y:yty, 'text-anchor':'middle', transform:'rotate(-90 '+ytx+' '+yty+')', 'font-family':'Liberation Serif, serif', 'font-size':'12.5', fill:'#111'}, g);
  ytl.textContent = isRight ? 'log₁₀⟨σv⟩ (cm³s⁻¹)' : 'M₂ (GeV)';
  
  const lab = panelLabels[i];
  const lw = lab.length * 5.2 + 6;
  const lb = mk('rect', {x:x0+7, y:y0+8, width:lw, height:15, fill:'#fff', stroke:'#555', 'stroke-width':'0.8'}, g);
  
  const lt = mk('text', {x:x0+10, y:y0+19.5, 'font-family':'Liberation Sans, sans-serif', 'font-size':'9.5', fill:'#111', textLength:lw-6, lengthAdjust:'spacingAndGlyphs'}, g);
  lt.textContent = lab;
  
}

// ===== Figure 2 =====
(function(){
  const x0 = 2956, x1 = 3199, y0 = 80, y1 = 270;
  const lxMin = 0.73, lxMax = 3.72, lyMin = -52, lyMax = -42.28;
  const sx = m => x0 + (Math.log10(m) - lxMin) / (lxMax - lxMin) * (x1 - x0);
  const sy = l => y1 - (l - lyMin) / (lyMax - lyMin) * (y1 - y0);
  const g = mk('g', {});
  
  
  const cp = mk('clipPath', {id:'clipF2'}, defs);
  mk('rect', {x:x0, y:y0, width:x1-x0, height:y1-y0}, cp);
  const plot = mk('g', {'clip-path':'url(#clipF2)'}, g);

  for (let k = 0; k < scenarioNames.length; k++){
    const gr = mk('linearGradient', {id:'sg'+k, x1:'0', y1:'0', x2:'0', y2:'1'}, defs);
    mk('stop', {offset:'0', 'stop-color':scenarioColors[k], 'stop-opacity':'1'}, gr);
    mk('stop', {offset:'0.35', 'stop-color':scenarioColors[k], 'stop-opacity':'0.75'}, gr);
    mk('stop', {offset:'1', 'stop-color':scenarioColors[k], 'stop-opacity':'0.15'}, gr);
    const xa = sx(scenarioMassLow[k]), xb = sx(scenarioMassHigh[k]);
    const ya = sy(scenarioLogSigmaTop[k]), yb = sy(scenarioLogSigmaBottom[k]);
    const r = mk('rect', {x:xa, y:ya, width:Math.max(2, xb-xa), height:Math.max(3, yb-ya), fill:'url(#sg'+k+')', rx:1.5}, plot);
    
  }
  let d = '';
  xenonMass.forEach((m, j) => { d += (j ? ' L' : 'M') + sx(m).toFixed(1) + ',' + sy(xenonLogSigma[j]).toFixed(1); });
  const xc = mk('path', {d:d, fill:'none', stroke:'#111', 'stroke-width':'1.6', 'stroke-dasharray':'2.5,2'}, plot);
  

  const fr = mk('rect', {x:x0, y:y0, width:x1-x0, height:y1-y0, fill:'none', stroke:'#444', 'stroke-width':'1.4'}, g);
  
  for (let e = 0; e <= 3; e++){
    for (let m = 1; m <= 9; m++){
      const v = m * Math.pow(10, e);
      if (Math.log10(v) < lxMin || Math.log10(v) > lxMax) continue;
      const L = m === 1 ? 6 : 3, X = sx(v);
      mk('line', {x1:X, x2:X, y1:y1, y2:y1-L, stroke:'#333', 'stroke-width':'0.8'}, g);
      mk('line', {x1:X, x2:X, y1:y0, y2:y0+L, stroke:'#333', 'stroke-width':'0.8'}, g);
    }
  }
  for (let e = -52; e <= -43; e++){
    for (let m = 1; m <= 9; m++){
      const l = e + Math.log10(m);
      if (l < lyMin || l > lyMax) continue;
      const L = m === 1 ? 6 : 3, Y = sy(l);
      mk('line', {x1:x0, x2:x0+L, y1:Y, y2:Y, stroke:'#333', 'stroke-width':'0.8'}, g);
      mk('line', {x1:x1, x2:x1-L, y1:Y, y2:Y, stroke:'#333', 'stroke-width':'0.8'}, g);
    }
  }
  fig2XTickExp.forEach(e => {
    const t = mk('text', {x:sx(Math.pow(10,e)), y:y1+17, 'text-anchor':'middle', 'font-family':'Liberation Serif, serif', 'font-size':'14', fill:'#111'}, g);
    t.textContent = '10';
    const s = mk('tspan', {dy:'-6', 'font-size':'9'}, t);
    s.textContent = String(e);
    
  });
  fig2YTickExp.forEach(e => {
    const t = mk('text', {x:x0-4, y:sy(e)+5, 'text-anchor':'end', 'font-family':'Liberation Serif, serif', 'font-size':'14', fill:'#111'}, g);
    t.textContent = '10';
    const s = mk('tspan', {dy:'-6', 'font-size':'9'}, t);
    s.textContent = '\u2212' + String(-e);
    
  });
  const xt = mk('text', {x:(x0+x1)/2, y:y1+36, 'text-anchor':'middle', 'font-family':'Liberation Serif, serif', 'font-size':'14', fill:'#111'}, g);
  xt.textContent = 'mχ₁⁰ (GeV)';
  
  const yx = 2915, yy = (y0+y1)/2;
  const yt = mk('text', {x:yx, y:yy, 'text-anchor':'middle', transform:'rotate(-90 '+yx+' '+yy+')', 'font-family':'Liberation Serif, serif', 'font-size':'14', fill:'#111'}, g);
  yt.textContent = 'σ';
  const ys = mk('tspan', {dy:'-5', 'font-size':'10', 'font-style':'italic'}, yt);
  ys.textContent = 'SI';
  const yr = mk('tspan', {dy:'5'}, yt);
  yr.textContent = ' (cm²)';
  
  const lg = mk('g', {}, g);
  
  
  mk('rect', {x:3076, y:86, width:119, height:19, fill:'#fff', stroke:'#555', 'stroke-width':'0.9'}, lg);
  mk('line', {x1:3082, x2:3100, y1:95.5, y2:95.5, stroke:'#111', 'stroke-width':'1.6', 'stroke-dasharray':'2.5,2'}, lg);
  const lt = mk('text', {x:3105, y:99.5, 'font-family':'Liberation Sans, sans-serif', 'font-size':'11', fill:'#111'}, lg);
  lt.textContent = 'XENON1T limit';
  
})();
</script>
</body>
</html>
